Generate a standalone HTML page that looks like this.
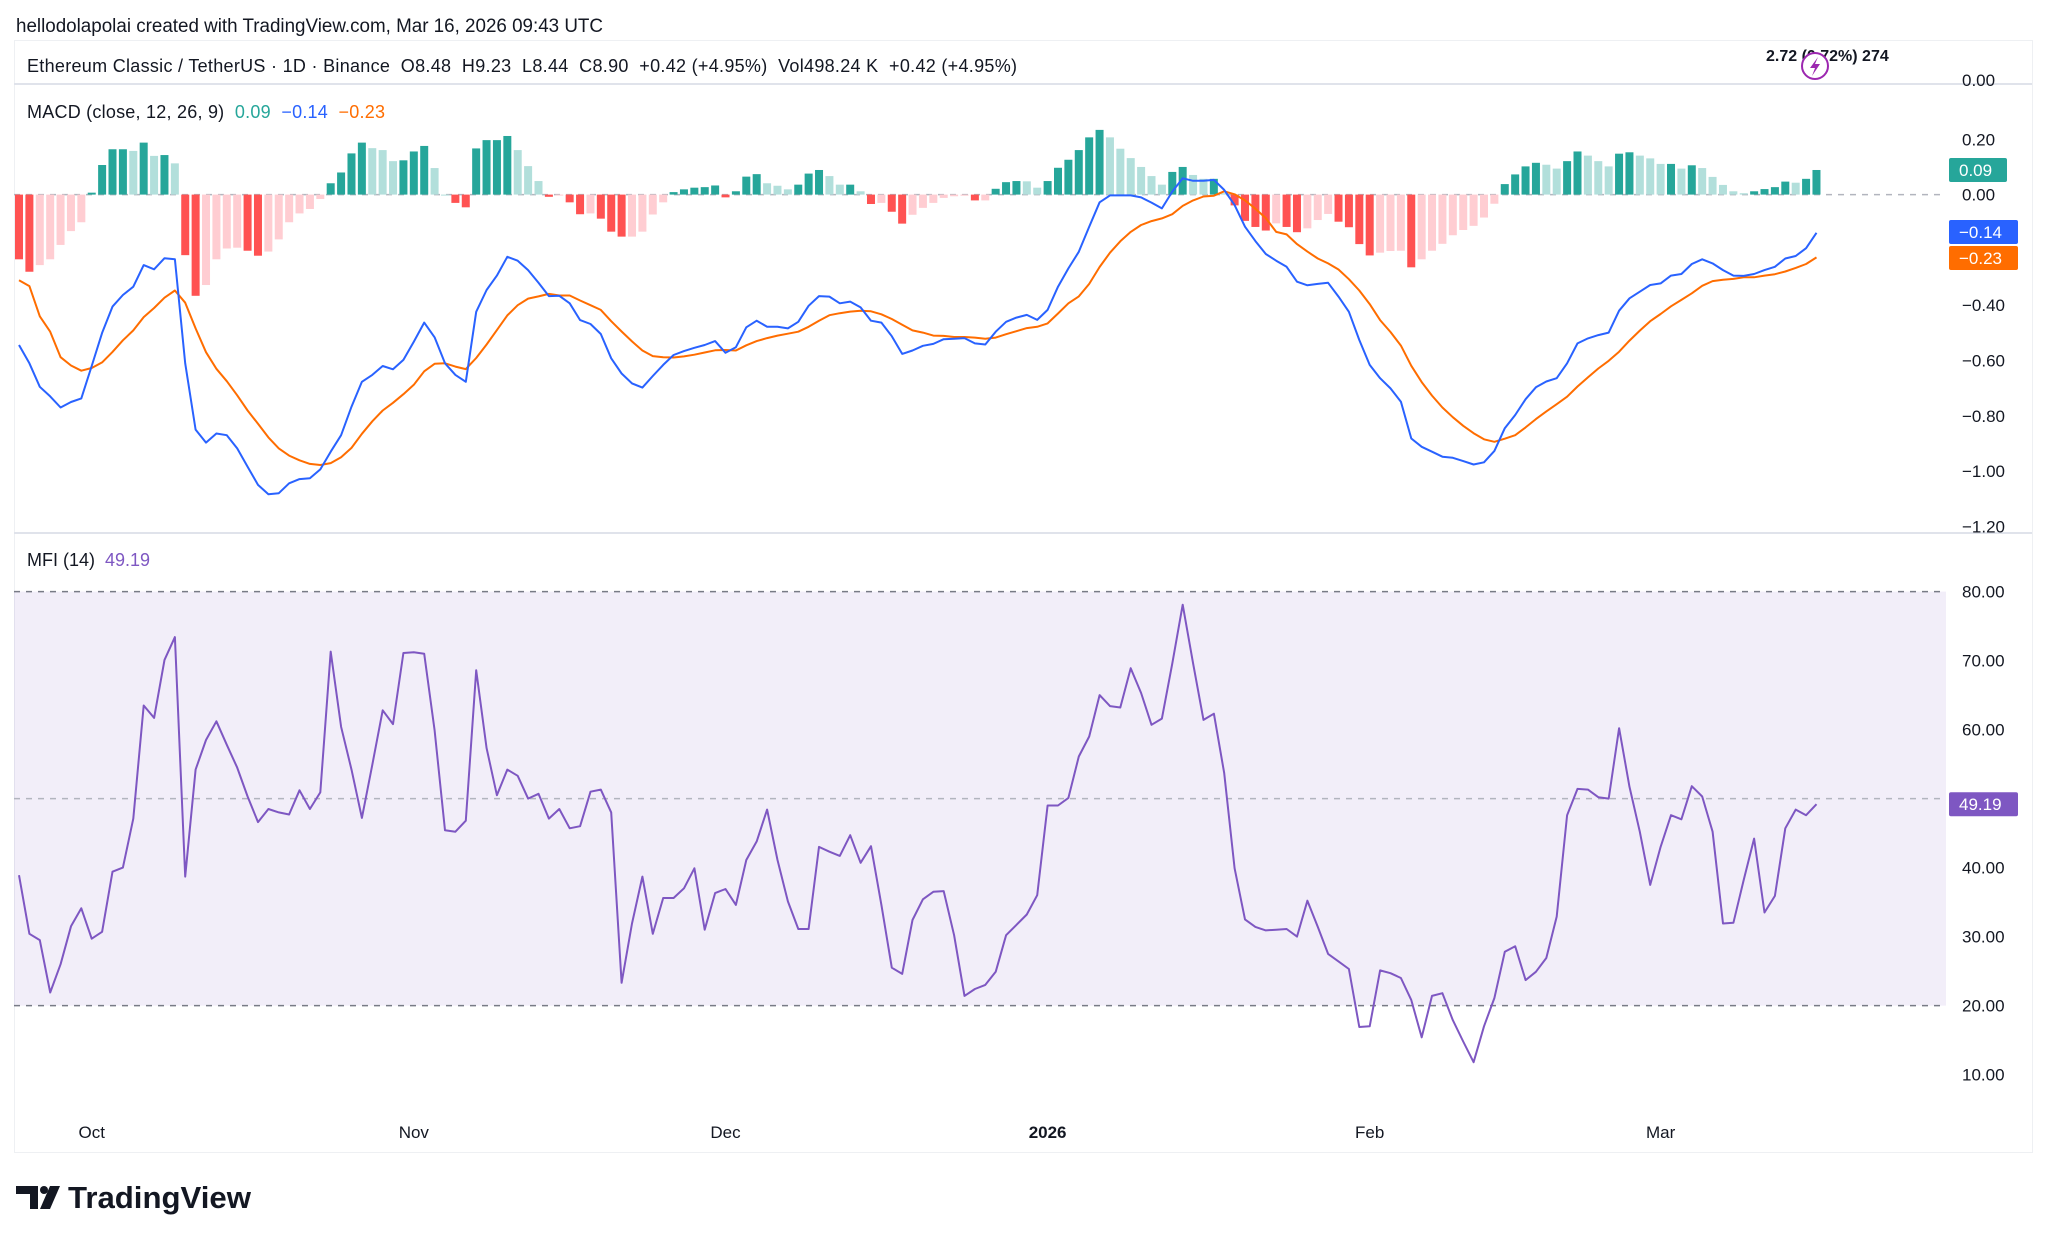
<!DOCTYPE html>
<html><head><meta charset="utf-8"><style>
html,body{margin:0;padding:0;background:#fff;}
svg{display:block;font-family:"Liberation Sans",sans-serif;}
</style></head><body>
<svg id="chart" width="2048" height="1241" viewBox="0 0 2048 1241" xmlns="http://www.w3.org/2000/svg">
<text x="16" y="32" font-size="19" fill="#131722" textLength="587" lengthAdjust="spacingAndGlyphs">hellodolapolai created with TradingView.com, Mar 16, 2026 09:43 UTC</text>
<rect x="14.5" y="40.5" width="2018" height="1112" fill="none" stroke="#eef0f3" stroke-width="1"/>
<line x1="14" y1="84" x2="2032" y2="84" stroke="#e0e3eb" stroke-width="2"/>
<line x1="14" y1="533" x2="2032" y2="533" stroke="#e0e3eb" stroke-width="2"/>
<text x="27" y="72" font-size="18" fill="#131722" textLength="990" lengthAdjust="spacing" xml:space="preserve">Ethereum Classic / TetherUS · 1D · Binance  O8.48  H9.23  L8.44  C8.90  +0.42 (+4.95%)  Vol498.24 K  +0.42 (+4.95%)</text>
<text x="1766" y="61" font-size="16" font-weight="bold" fill="#131722">2.72 (0.72%) 274</text>
<g><circle cx="1815" cy="66" r="13" fill="#fff" stroke="#9c27b0" stroke-width="2"/><path d="M1818 57 L1810 68 L1815 68 L1812 76 L1820 64 L1815 64 Z" fill="#9c27b0"/></g>
<text x="27" y="118" font-size="18" fill="#131722" textLength="358" lengthAdjust="spacing" xml:space="preserve">MACD (close, 12, 26, 9)  <tspan fill="#26a69a">0.09</tspan>  <tspan fill="#2962ff">−0.14</tspan>  <tspan fill="#ff6d00">−0.23</tspan></text>
<text x="27" y="566" font-size="18" fill="#131722" textLength="123" lengthAdjust="spacing" xml:space="preserve">MFI (14)  <tspan fill="#7e57c2">49.19</tspan></text>
<g id="macdG"></g>
<g id="mfiG"></g>
<g id="axisG"></g>
<g>
<path d="M16 1186 H38 V1209 H30 V1194 H16 Z" fill="#131722"/><circle cx="44" cy="1190" r="4" fill="#131722"/><path d="M50 1186 H60 L50 1209 H40 Z" fill="#131722"/>
<text x="68" y="1208" font-size="31" font-weight="bold" fill="#131722" textLength="183" lengthAdjust="spacingAndGlyphs">TradingView</text></g>
</svg>
<script>
const macd=[-0.544,-0.61,-0.695,-0.73,-0.77,-0.75,-0.737,-0.62,-0.50,-0.405,-0.363,-0.333,-0.255,-0.27,-0.23,-0.234,-0.61,-0.85,-0.897,-0.864,-0.87,-0.918,-0.984,-1.05,-1.084,-1.08,-1.044,-1.029,-1.026,-0.994,-0.93,-0.87,-0.767,-0.677,-0.652,-0.62,-0.632,-0.598,-0.532,-0.463,-0.516,-0.61,-0.652,-0.677,-0.424,-0.345,-0.293,-0.225,-0.239,-0.273,-0.319,-0.367,-0.366,-0.393,-0.454,-0.468,-0.504,-0.592,-0.647,-0.683,-0.698,-0.656,-0.616,-0.58,-0.566,-0.554,-0.544,-0.53,-0.572,-0.552,-0.48,-0.456,-0.478,-0.478,-0.484,-0.46,-0.402,-0.367,-0.369,-0.393,-0.387,-0.408,-0.456,-0.463,-0.512,-0.576,-0.564,-0.547,-0.54,-0.523,-0.521,-0.519,-0.538,-0.542,-0.496,-0.46,-0.445,-0.435,-0.453,-0.417,-0.333,-0.267,-0.207,-0.116,-0.028,-0.003,-0.003,-0.003,-0.01,-0.029,-0.05,0.011,0.059,0.05,0.05,0.053,0.017,-0.038,-0.116,-0.168,-0.215,-0.239,-0.261,-0.315,-0.328,-0.323,-0.319,-0.369,-0.424,-0.526,-0.616,-0.664,-0.701,-0.749,-0.882,-0.912,-0.93,-0.948,-0.952,-0.964,-0.976,-0.968,-0.927,-0.845,-0.797,-0.74,-0.697,-0.676,-0.664,-0.61,-0.538,-0.52,-0.508,-0.499,-0.42,-0.375,-0.351,-0.327,-0.321,-0.293,-0.287,-0.251,-0.234,-0.249,-0.273,-0.293,-0.294,-0.287,-0.273,-0.261,-0.231,-0.222,-0.194,-0.138];
const hist=[-0.234,-0.279,-0.255,-0.234,-0.182,-0.132,-0.10,0.007,0.107,0.164,0.164,0.158,0.188,0.14,0.143,0.113,-0.219,-0.366,-0.327,-0.234,-0.195,-0.192,-0.203,-0.221,-0.206,-0.162,-0.10,-0.068,-0.052,-0.016,0.041,0.08,0.149,0.188,0.168,0.161,0.121,0.124,0.156,0.176,0.096,0.0,-0.03,-0.046,0.167,0.197,0.197,0.212,0.161,0.103,0.049,-0.008,-0.001,-0.028,-0.071,-0.068,-0.087,-0.134,-0.152,-0.152,-0.134,-0.072,-0.028,0.009,0.019,0.025,0.027,0.033,-0.01,0.012,0.065,0.074,0.041,0.032,0.019,0.036,0.076,0.089,0.067,0.036,0.036,0.012,-0.034,-0.03,-0.062,-0.105,-0.073,-0.048,-0.03,-0.012,-0.006,-0.004,-0.021,-0.021,0.021,0.045,0.049,0.048,0.025,0.049,0.097,0.126,0.161,0.207,0.234,0.207,0.166,0.132,0.10,0.067,0.036,0.082,0.10,0.071,0.057,0.057,0.005,-0.039,-0.095,-0.117,-0.13,-0.104,-0.117,-0.136,-0.122,-0.092,-0.07,-0.098,-0.118,-0.179,-0.22,-0.21,-0.204,-0.203,-0.263,-0.234,-0.203,-0.178,-0.147,-0.128,-0.113,-0.083,-0.033,0.038,0.073,0.102,0.115,0.108,0.094,0.121,0.156,0.141,0.121,0.102,0.148,0.153,0.141,0.131,0.111,0.111,0.094,0.106,0.096,0.064,0.035,0.012,0.005,0.012,0.02,0.027,0.047,0.043,0.057,0.089];
const mfi=[38.9,30.4,29.5,21.9,26.0,31.5,34.1,29.7,30.7,39.4,40.0,47.1,63.5,61.7,70.1,73.4,38.7,54.2,58.5,61.2,57.8,54.5,50.3,46.6,48.5,48.0,47.7,51.2,48.5,50.9,71.3,60.4,54.2,47.2,54.9,62.8,60.8,71.1,71.2,71.0,59.9,45.4,45.2,46.8,68.6,57.3,50.5,54.2,53.3,50.0,50.7,47.1,48.5,45.7,46.0,51.0,51.3,48.0,23.3,31.9,38.7,30.4,35.6,35.6,37.0,39.9,31.0,36.3,36.9,34.6,41.1,43.8,48.4,41.1,35.1,31.1,31.1,43.0,42.3,41.7,44.7,40.7,43.1,34.6,25.5,24.6,32.4,35.4,36.5,36.6,30.2,21.4,22.4,23.0,24.9,30.2,31.7,33.2,36.0,49.0,49.0,50.1,56.1,59.0,65.0,63.4,63.2,68.9,65.3,60.7,61.6,69.6,78.1,69.6,61.4,62.3,53.7,39.9,32.5,31.4,30.9,31.0,31.1,30.0,35.2,31.4,27.5,26.4,25.3,16.9,17.0,25.1,24.7,24.0,20.8,15.4,21.4,21.8,17.9,14.8,11.8,17.0,21.1,27.8,28.6,23.7,24.9,26.9,32.9,47.6,51.4,51.3,50.2,50.0,60.2,51.7,45.2,37.5,43.0,47.6,47.0,51.8,50.3,45.2,31.9,32.0,38.2,44.2,33.5,35.9,45.7,48.4,47.6,49.19];
const macdTicks=["0.20","0.00","-0.40","-0.60","-0.80","-1.00","-1.20"];
const mfiTicks=["80.00","70.00","60.00","50.00","40.00","30.00","20.00","10.00"];
const monthLabels=["Oct","Nov","Dec","2026","Feb","Mar"];
const monthIndex=[7,38,68,99,130,158];

const NS="http://www.w3.org/2000/svg";
function mk(tag,attrs,parent){const e=document.createElementNS(NS,tag);for(const k in attrs)e.setAttribute(k,attrs[k]);parent.appendChild(e);return e;}
const xOf=i=>19+i*10.39;
const yMacd=v=>194.6-v*276.5;
const yMfi=v=>591.6+(80-v)*6.9;
const mg=document.getElementById('macdG'),fg=document.getElementById('mfiG'),ag=document.getElementById('axisG');

let z=mk('line',{x1:14,x2:1946,y1:yMacd(0),y2:yMacd(0),stroke:'#b2b5be','stroke-dasharray':'6 6','stroke-width':1.5},mg);


hist.forEach((h,i)=>{
  const prev=i>0?hist[i-1]:h;
  let c;
  if(h>=0)c=(h>=prev)?'#26a69a':'#b2dfdb';else c=(h<prev||i===0)?'#ff5252':'#ffcdd2';
  const y0=yMacd(0),y1=yMacd(h);
  const r=mk('rect',{x:xOf(i)-4,y:Math.min(y0,y1),width:8,height:Math.max(1,Math.abs(y1-y0)),fill:c},mg);
  
  
});
const signal=macd.map((m,i)=>m-hist[i]);
function line(arr,yf,color,name,g){
  const p=mk('polyline',{points:arr.map((v,i)=>xOf(i).toFixed(1)+','+yf(v).toFixed(1)).join(' '),fill:'none',stroke:color,'stroke-width':2,'stroke-linejoin':'round'},g);
  
  
}
line(signal,yMacd,'#ff6d00','signal-line',mg);
line(macd,yMacd,'#2962ff','macd-line',mg);

let b=mk('rect',{x:14,y:yMfi(80),width:1932,height:yMfi(20)-yMfi(80),fill:'rgba(126,87,194,0.1)'},fg);


[80,50,20].forEach(v=>{
  const l=mk('line',{x1:14,x2:1946,y1:yMfi(v),y2:yMfi(v),stroke:v===50?'#b2b5be':'#787b86','stroke-dasharray':'6 6','stroke-width':1.5},fg);
  
  
});
line(mfi,yMfi,'#7e57c2','mfi-line',fg);

function txt(s,x,y,attrs,name,g){const t=mk('text',Object.assign({x:x,y:y,'font-size':17,fill:'#131722'},attrs),g);t.textContent=s;return t;}
txt("0.00",1962,86,{},'macd-axis-label',ag);
macdTicks.forEach(s=>{txt(s.replace('-','−'),1962,yMacd(parseFloat(s))+6,{},'macd-axis-label',ag);});
mfiTicks.forEach(s=>{txt(s,1962,yMfi(parseFloat(s))+6,{},'mfi-axis-label',ag);});
monthLabels.forEach((s,k)=>{txt(s,xOf(monthIndex[k]),1138,{'text-anchor':'middle','font-weight':s==='2026'?'bold':'normal'},'time-axis-label',ag);});
function box(val,yc,color,name,w){
  const r=mk('rect',{x:1949,y:yc-12,width:w,height:24,rx:2,fill:color},ag);
  
  
  txt(val,1959,yc+6,{fill:'#fff'},name+'-text',ag);
}
const lastI=macd.length-1;
box(hist[lastI].toFixed(2),yMacd(hist[lastI]),'#26a69a','histogram-value-box',58);
box('−'+Math.abs(macd[lastI]).toFixed(2),232,'#2962ff','macd-value-box',69);
box('−'+Math.abs(signal[lastI]).toFixed(2),258,'#ff6d00','signal-value-box',69);
box(mfi[lastI].toFixed(2),yMfi(mfi[lastI]),'#7e57c2','mfi-value-box',69);
</script>
</body></html>
